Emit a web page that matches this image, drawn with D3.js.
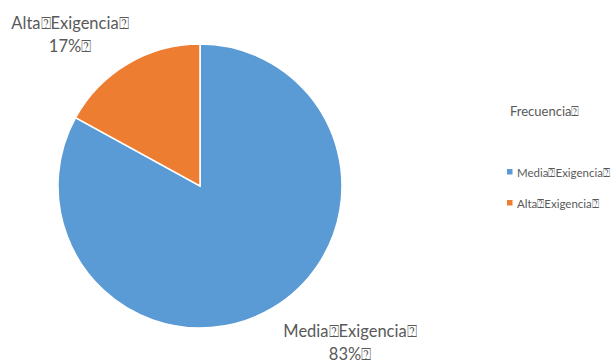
<!DOCTYPE html>
<html><head><meta charset="utf-8">
<script src="https://cdn.jsdelivr.net/npm/d3@7"></script>
<style>body{margin:0;background:#fff}svg{display:block}text{font-family:Lato,"Open Sans",sans-serif;fill:#595959}</style>
</head><body>
<script>
const categories = ["Media\u2370Exigencia\u2370", "Alta\u2370Exigencia\u2370"];
const values = [83, 17];
const percentLabels = ["83%\u2370", "17%\u2370"];
const legendTitle = "Frecuencia\u2370";
const colors = ["#5B9BD5", "#ED7D31"];

const W = 616, H = 363;
const svg = d3.select("body").append("svg").attr("width", W).attr("height", H);
const cx = 200, cy = 186, r = 142;
const pie = d3.pie().sort(null).value(d => d)(values);
const arc = d3.arc().innerRadius(0).outerRadius(r);
const g = svg.append("g").attr("transform", `translate(${cx},${cy})`);
g.selectAll("path").data(pie).join("path")
  .attr("d", arc).attr("fill", (d, i) => colors[i])
  .attr("stroke", "#fff").attr("stroke-width", 1.5);

const labelPos = [[350, 337], [70, 29]];
pie.forEach((d, i) => {
  const t = svg.append("text").attr("text-anchor", "middle").attr("font-size", 16.5);
  t.append("tspan").attr("x", labelPos[i][0]).attr("y", labelPos[i][1]).text(categories[i]);
  t.append("tspan").attr("x", labelPos[i][0]).attr("dy", 23).text(percentLabels[i]);
});

svg.append("text").attr("x", 510).attr("y", 116).attr("font-size", 13).text(legendTitle);
const lg = svg.append("g");
categories.forEach((c, i) => {
  const y = 177 + i * 31;
  lg.append("rect").attr("x", 507).attr("y", y - 8).attr("width", 5.5).attr("height", 5.5).attr("fill", colors[i]);
  lg.append("text").attr("x", 517).attr("y", y).attr("font-size", 11.5).text(c);
});
</script>
</body></html>
